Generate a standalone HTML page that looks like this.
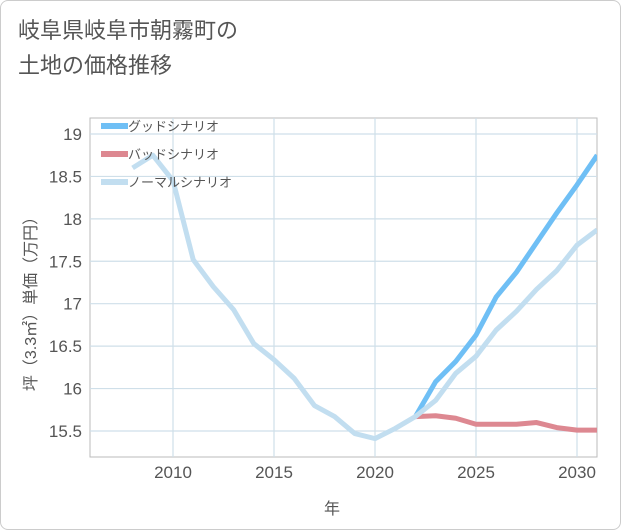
<!DOCTYPE html>
<html><head><meta charset="utf-8"><style>
body{margin:0;background:#fff;font-family:"Liberation Sans","Noto Sans CJK JP",sans-serif;}
#card{position:absolute;left:0;top:0;width:619px;height:528px;border:1px solid #ccc;border-radius:8px;background:#fff;}
#title{position:absolute;left:18px;top:13px;font-size:22px;line-height:35px;color:#555;}
</style></head><body>
<div id="card"></div>
<div id="title">岐阜県岐阜市朝霧町の<br>土地の価格推移</div>
<svg id="chart" width="621" height="530" style="position:absolute;left:0;top:0"></svg>
<script>
const years=[2008,2009,2010,2011,2012,2013,2014,2015,2016,2017,2018,2019,2020,2021,2022,2023,2024,2025,2026,2027,2028,2029,2030,2031];
const normalVals=[18.6,18.75,18.45,17.52,17.2,16.93,16.53,16.34,16.12,15.8,15.67,15.47,15.41,15.53,15.67,15.86,16.18,16.38,16.69,16.91,17.17,17.39,17.69,17.87];
const goodVals=[null,null,null,null,null,null,null,null,null,null,null,null,null,null,15.67,16.08,16.32,16.63,17.08,17.37,17.72,18.07,18.4,18.75];
const badVals=[null,null,null,null,null,null,null,null,null,null,null,null,null,null,15.67,15.68,15.65,15.58,15.58,15.58,15.6,15.54,15.51,15.51];
const xTicks=[2010,2015,2020,2025,2030];
const yTicks=[15.5,16,16.5,17,17.5,18,18.5,19];
const NS="http://www.w3.org/2000/svg";
const svg=document.getElementById('chart');
const L=90,R=597,T=118,B=457;
const x=v=>173+(v-2010)*20.2;
const y=v=>431-(v-15.5)*84.86;
function el(t,a,p){const e=document.createElementNS(NS,t);for(const k in a)e.setAttribute(k,a[k]);(p||svg).appendChild(e);return e;}
const plot=el('rect',{x:L,y:T,width:R-L,height:B-T,fill:'#fff',stroke:'#bbb'});


yTicks.forEach(v=>{
 const g=el('line',{x1:L,x2:R,y1:y(v),y2:y(v),stroke:'#cfdfe9','stroke-width':1.2});
 
 
 const t=el('text',{x:82,y:y(v)+6,'text-anchor':'end','font-size':17,fill:'#555'});
 t.textContent=v;
 
 
});
xTicks.forEach(v=>{
 const g=el('line',{x1:x(v),x2:x(v),y1:T,y2:B,stroke:'#cfdfe9','stroke-width':1.2});
 
 
 const t=el('text',{x:x(v),y:478,'text-anchor':'middle','font-size':17,fill:'#555'});
 t.textContent=v;
 
 
});
const xt=el('text',{x:332,y:514,'text-anchor':'middle','font-size':16,fill:'#555'});
xt.textContent='年';


const yt=el('text',{x:0,y:0,'text-anchor':'middle','font-size':16,fill:'#555',transform:'translate(36,300) rotate(-90)'});
yt.textContent='坪（3.3㎡）単価（万円）';


const cp=el('clipPath',{id:'cp'});el('rect',{x:L,y:T,width:R-L,height:B-T},cp);
function line(vals,color,name){
 let d='';vals.forEach((v,i)=>{if(v==null)return;d+=(d?'L':'M')+x(years[i])+','+y(v);});
 const p=el('path',{d:d,fill:'none',stroke:color,'stroke-width':5,'stroke-linejoin':'round','clip-path':'url(#cp)'});
 
 
}
line(badVals,'#dd8891','bad-scenario-line');
line(goodVals,'#6fbff5','good-scenario-line');
line(normalVals,'#c2def0','normal-scenario-line');
const leg=[['グッドシナリオ','#6fbff5'],['バッドシナリオ','#dd8891'],['ノーマルシナリオ','#c2def0']];
leg.forEach((l,i)=>{
 const g=el('g',{});
 
 
 const yy=126+i*28;
 el('line',{x1:101,x2:128,y1:yy,y2:yy,stroke:l[1],'stroke-width':6},g);
 const t=el('text',{x:128,y:yy+5,'font-size':13,fill:'#555'},g);t.textContent=l[0];
});
</script>
</body></html>
